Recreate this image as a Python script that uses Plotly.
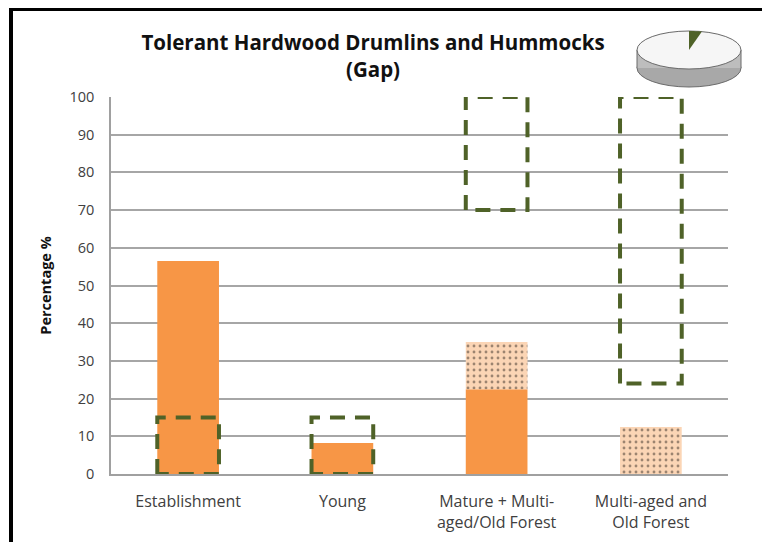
import math
import plotly.graph_objects as go

categories = ["Establishment", "Young", "Mature + Multi-<br>aged/Old Forest", "Multi-aged and<br>Old Forest"]
current_solid = [56.5, 8.2, 22.5, 0]
current_dotted = [0, 0, 12.5, 12.5]
range_low = [0, 0, 70, 24]
range_high = [15, 15, 100, 100]
y_ticks = [0, 10, 20, 30, 40, 50, 60, 70, 80, 90, 100]
pie_share = [4, 96]

W, H = 770, 542
OFF = 8  # page body offset
# target plot area in screenshot pixels: x 111..728, y 97..474
L = 111 - OFF
T = 97 - OFF
R = W - (728 - OFF)
B = H - (474 - OFF)
PW, PH = W - L - R, H - T - B

def px(x):
    return (x - OFF - L) / PW

def py(y):
    return (H - B - (y - OFF)) / PH

xs = list(range(len(categories)))
bw = 0.4

fig = go.Figure()
fig.add_trace(go.Bar(x=xs, y=current_solid, width=bw, marker=dict(color="#F79646", line=dict(width=0)),
                     showlegend=False, hoverinfo="skip"))
fig.add_trace(go.Bar(x=xs, y=current_dotted, base=current_solid, width=bw,
                     marker=dict(color="#FBD5B5", line=dict(width=0),
                                 pattern=dict(shape=".", fgcolor="#3d342c", bgcolor="#FBD5B5", size=6, solidity=0.18)),
                     showlegend=False, hoverinfo="skip"))

for i, (lo, hi) in enumerate(zip(range_low, range_high)):
    fig.add_trace(go.Scatter(
        x=[i - bw / 2, i - bw / 2, i + bw / 2, i + bw / 2, i - bw / 2],
        y=[lo, hi, hi, lo, lo], mode="lines",
        line=dict(color="#4F6228", width=4, dash="15px,10px"),
        cliponaxis=False, showlegend=False, hoverinfo="skip"))

shapes = []
# outer black frame (left and top)
shapes.append(dict(type="line", xref="paper", yref="paper", x0=px(11), x1=px(11), y0=py(7), y1=py(560),
                   line=dict(color="black", width=4)))
shapes.append(dict(type="line", xref="paper", yref="paper", x0=px(9), x1=px(790), y0=py(9), y1=py(9),
                   line=dict(color="black", width=4)))
# pie icon (decoration)
cx, cy, rx, ry, th = 689, 50, 52, 19, 18
shapes.append(dict(type="circle", xref="paper", yref="paper",
                   x0=px(cx - rx), x1=px(cx + rx), y0=py(cy + th - ry), y1=py(cy + th + ry),
                   fillcolor="#a8a8a8", line=dict(color="#6a6a6a", width=1)))
shapes.append(dict(type="rect", xref="paper", yref="paper",
                   x0=px(cx - rx), x1=px(cx + rx), y0=py(cy + th), y1=py(cy),
                   fillcolor="#bdbdbd", line=dict(width=0)))
shapes.append(dict(type="line", xref="paper", yref="paper",
                   x0=px(cx - rx), x1=px(cx - rx), y0=py(cy + th), y1=py(cy), line=dict(color="#6a6a6a", width=1)))
shapes.append(dict(type="line", xref="paper", yref="paper",
                   x0=px(cx + rx), x1=px(cx + rx), y0=py(cy + th), y1=py(cy), line=dict(color="#6a6a6a", width=1)))
shapes.append(dict(type="circle", xref="paper", yref="paper",
                   x0=px(cx - rx), x1=px(cx + rx), y0=py(cy - ry), y1=py(cy + ry),
                   fillcolor="#f6f6f6", line=dict(color="#6a6a6a", width=1)))
a = pie_share[0] / sum(pie_share) * 2 * math.pi
pts = []
n = 8
for k in range(n + 1):
    t = -math.pi / 2 + a * k / n
    pts.append((cx + rx * math.cos(t), cy + ry * math.sin(t)))
path = f"M {px(cx)} {py(cy)} " + " ".join(f"L {px(x)} {py(y)}" for x, y in pts) + " Z"
shapes.append(dict(type="path", xref="paper", yref="paper", path=path,
                   fillcolor="#4F6228", line=dict(width=0)))

font_family = "'Open Sans', Lato, sans-serif"
fig.update_layout(
    width=W, height=H,
    margin=dict(l=L, r=R, t=T, b=B),
    paper_bgcolor="white", plot_bgcolor="white",
    barmode="overlay",
    shapes=shapes,
    title=dict(text="<b>Tolerant Hardwood Drumlins and Hummocks<br>(Gap)</b>",
               xref="container", x=(373 - OFF) / W, xanchor="center",
               yref="container", y=1 - 42 / H, yanchor="top",
               font=dict(family=font_family, size=20.5, color="#111111")),
    font=dict(family=font_family, color="#404040"),
    xaxis=dict(range=[-0.5, 3.5], tickvals=xs, ticktext=categories, showgrid=False,
               showline=True, linecolor="#a0a0a0", linewidth=1.5, ticks="",
               tickfont=dict(size=16, color="#404040"), ticklabelstandoff=12, fixedrange=True),
    yaxis=dict(range=[0, 100], tickvals=y_ticks, showgrid=True, gridcolor="#a6a6a6", gridwidth=1.5,
               showline=True, linecolor="#a0a0a0", linewidth=1.5, ticks="", zeroline=False,
               tickfont=dict(size=14.5, color="#404040"), ticklabelstandoff=12,
               title=dict(text="<b>Percentage %</b>", font=dict(size=14.5, color="#111111"), standoff=14),
               fixedrange=True),
)

fig.write_html("out.html")
